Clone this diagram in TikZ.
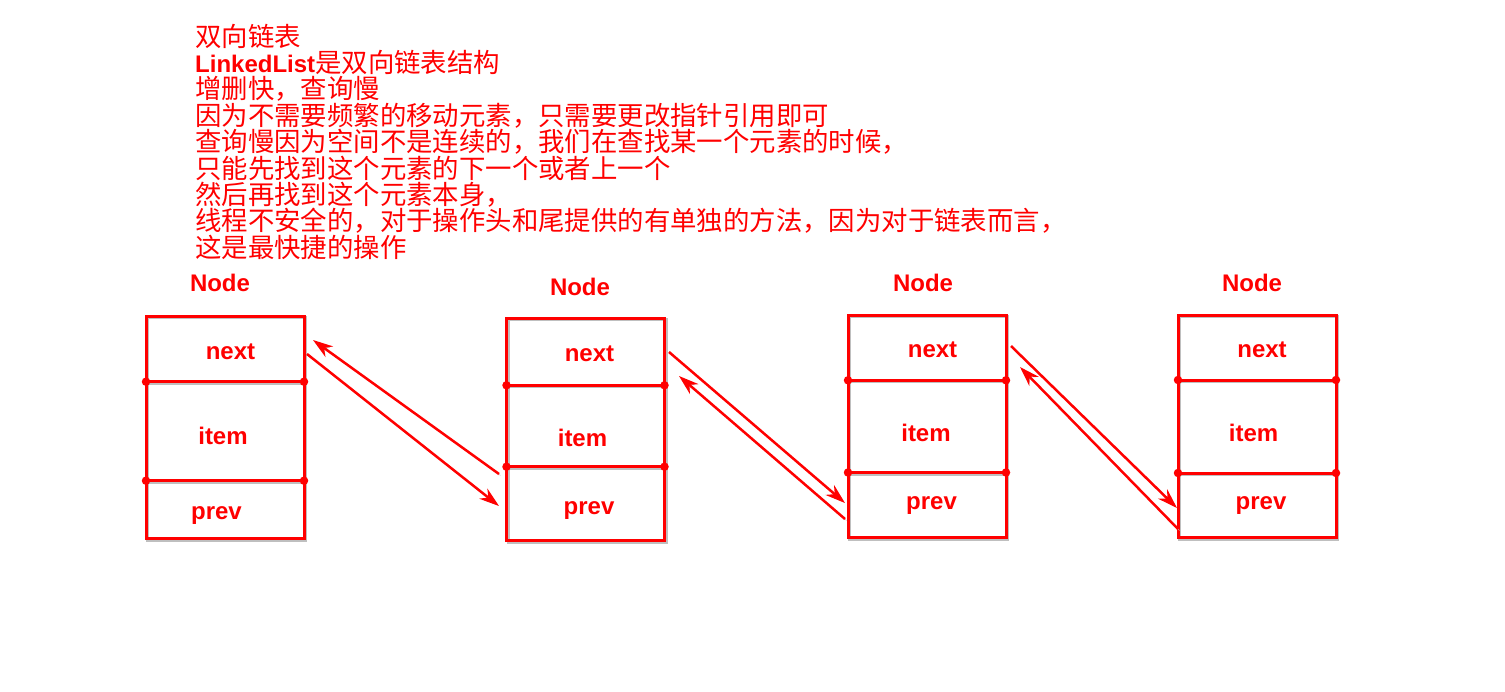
\documentclass[tikz,border=0pt]{standalone}
\usepackage{fontspec}
\setmainfont{Liberation Sans}
\newfontfamily\cjk{Noto Sans CJK SC}
\usetikzlibrary{arrows.meta}
\definecolor{lred}{RGB}{255,0,0}
\begin{document}
\begin{tikzpicture}[x=1pt,y=-1pt,
 shade/.style={preaction={draw=black!25, transform canvas={shift={(1.5pt,-1.5pt)}}}},
 cell/.style={draw=lred, line width=3pt, minimum width=158pt, inner sep=0pt, outer sep=0pt, shade},
 lbl/.style={text=lred, font=\bfseries\fontsize{24}{24}\selectfont, anchor=base, inner sep=0pt},
 note/.style={text=lred, font=\cjk\fontsize{26.4}{26.4}\selectfont, anchor=base west, inner sep=0pt},
 dotc/.style={fill=lred, circle, minimum size=8.5pt, inner sep=0pt},
 link/.style={draw=lred, line width=2.5pt, -{Stealth[length=20pt,width=13pt]}, shade},
]
\useasboundingbox[fill=white] (0,0) rectangle (1505,691);

% text block
\node[note] (t1) at (195,46) {双向链表};
\node[note] (t2) at (195,72.4) {{\rmfamily\bfseries\fontsize{24}{24}\selectfont LinkedList}是双向链表结构};
\node[note] (t3) at (195,98.8) {增删快，查询慢};
\node[note] (t4) at (195,125.2) {因为不需要频繁的移动元素，只需要更改指针引用即可};
\node[note] (t5) at (195,151.6) {查询慢因为空间不是连续的，我们在查找某一个元素的时候，};
\node[note] (t6) at (195,178) {只能先找到这个元素的下一个或者上一个};
\node[note] (t7) at (195,204.4) {然后再找到这个元素本身，};
\node[note] (t8) at (195,230.8) {线程不安全的，对于操作头和尾提供的有单独的方法，因为对于链表而言，};
\node[note] (t9) at (195,257.2) {这是最快捷的操作};

% box 1
\node[cell, minimum height=65.7pt] (n1next) at (225,348.85) {};
\node[cell, minimum height=99pt] (n1item) at (225,431.2) {};
\node[cell, minimum height=57.8pt] (n1prev) at (225,509.6) {};
% box 2
\node[cell, minimum height=67.3pt] (n2next) at (585.5,351.65) {};
\node[cell, minimum height=81.4pt] (n2item) at (585.5,426) {};
\node[cell, minimum height=73.8pt] (n2prev) at (585.5,503.6) {};
% box 3
\node[cell, minimum height=65.3pt] (n3next) at (927,347.65) {};
\node[cell, minimum height=92.2pt] (n3item) at (927,426.4) {};
\node[cell, minimum height=65pt] (n3prev) at (927,505) {};
% box 4
\node[cell, minimum height=65pt] (n4next) at (1257,347.5) {};
\node[cell, minimum height=93pt] (n4item) at (1257,426.5) {};
\node[cell, minimum height=64.5pt] (n4prev) at (1257,505.25) {};

\foreach \i in {1,2,3,4}{
  \foreach \a in {north west,north east,south west,south east}{
    \node[dotc] at (n\i item.\a) {};
  }
}

% labels
\node[lbl] (h1) at (220,291.7) {Node};
\node[lbl] (h2) at (580,295) {Node};
\node[lbl] (h3) at (923,291.7) {Node};
\node[lbl] (h4) at (1252,291.7) {Node};

\node[lbl] (x1) at (230.5,359.3) {next};
\node[lbl] (i1) at (223,444) {item};
\node[lbl] (p1) at (216.5,519) {prev};
\node[lbl] (x2) at (589.5,361.7) {next};
\node[lbl] (i2) at (582.5,446) {item};
\node[lbl] (p2) at (589,514) {prev};
\node[lbl] (x3) at (932.5,357.3) {next};
\node[lbl] (i3) at (926,441.7) {item};
\node[lbl] (p3) at (931.5,509.5) {prev};
\node[lbl] (x4) at (1262,357.3) {next};
\node[lbl] (i4) at (1253.5,441.7) {item};
\node[lbl] (p4) at (1261,509.5) {prev};

% link end points
\coordinate (a1s) at (307,354);   \coordinate (a1e) at (499,506);
\coordinate (a2s) at (499,474);   \coordinate (a2e) at (313,340);
\coordinate (a3s) at (669,352);   \coordinate (a3e) at (845,503);
\coordinate (a4s) at (845,519);   \coordinate (a4e) at (679,376);
\coordinate (a5s) at (1011,346);  \coordinate (a5e) at (1177,508);
\coordinate (a6s) at (1178,529);  \coordinate (a6e) at (1020,367);

\draw[link] (a1s) -- (a1e);
\draw[link] (a2s) -- (a2e);
\draw[link] (a3s) -- (a3e);
\draw[link] (a4s) -- (a4e);
\draw[link] (a5s) -- (a5e);
\draw[link] (a6s) -- (a6e);
\end{tikzpicture}
\end{document}
